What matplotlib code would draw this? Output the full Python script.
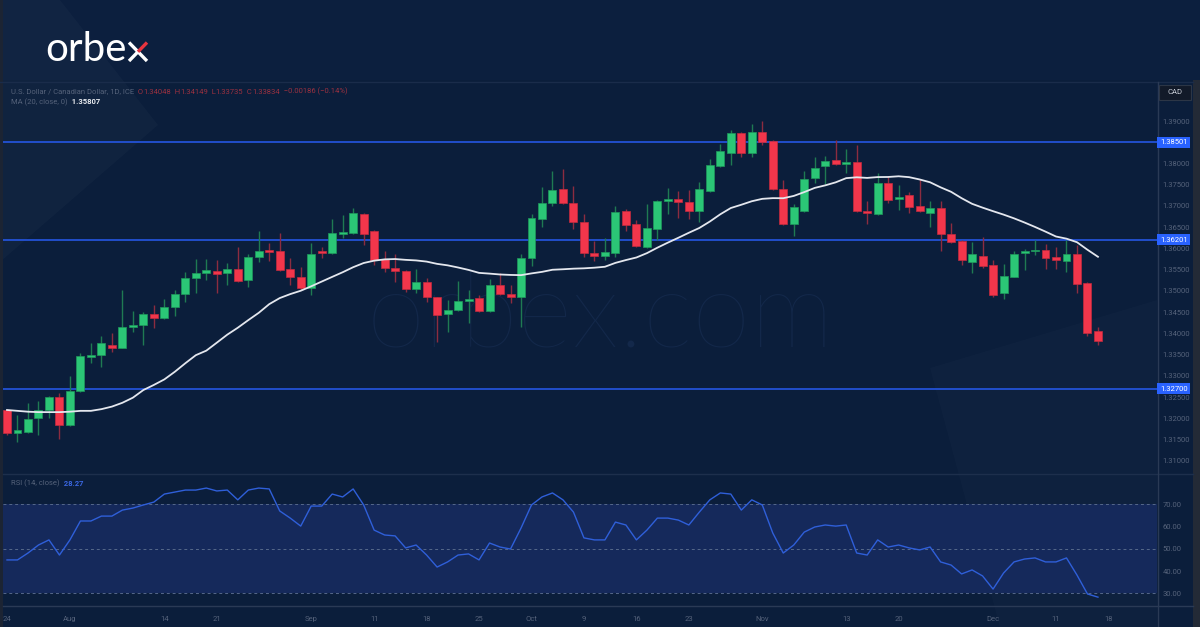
import matplotlib
matplotlib.use("Agg")
import matplotlib.pyplot as plt
from matplotlib.patches import Rectangle, Polygon
import numpy as np

# ---------------- data ----------------
opens = [1.3220, 1.3165, 1.3169, 1.3202, 1.3220, 1.3250, 1.3184, 1.3265, 1.3345, 1.3349,
         1.3373, 1.3367, 1.3415, 1.3420, 1.3446, 1.3437, 1.3462, 1.3492, 1.3530, 1.3542,
         1.3547, 1.3542, 1.3551, 1.3526, 1.3579, 1.3597, 1.3595, 1.3551, 1.3534, 1.3506,
         1.3595, 1.3589, 1.3635, 1.3636, 1.3681, 1.3641, 1.3575, 1.3554, 1.3547, 1.3505,
         1.3522, 1.3485, 1.3446, 1.3455, 1.3477, 1.3483, 1.3453, 1.3515, 1.3493, 1.3487,
         1.3577, 1.3669, 1.3708, 1.3740, 1.3706, 1.3662, 1.3589, 1.3583, 1.3590, 1.3689,
         1.3658, 1.3604, 1.3646, 1.3712, 1.3716, 1.3709, 1.3688, 1.3735, 1.3795, 1.3825,
         1.3871, 1.3825, 1.3873, 1.3853, 1.3739, 1.3658, 1.3688, 1.3765, 1.3793, 1.3808,
         1.3800, 1.3804, 1.3689, 1.3681, 1.3755, 1.3716, 1.3726, 1.3699, 1.3683, 1.3695,
         1.3634, 1.3618, 1.3569, 1.3583, 1.3561, 1.3495, 1.3534, 1.3589, 1.3593, 1.3596,
         1.3580, 1.3571, 1.3586, 1.3518, 1.34048]
highs = [1.3222, 1.3208, 1.3237, 1.3242, 1.3254, 1.3259, 1.3300, 1.3353, 1.3378, 1.3394,
         1.3400, 1.3502, 1.3454, 1.3451, 1.3467, 1.3480, 1.3502, 1.3545, 1.3575, 1.3575,
         1.3573, 1.3565, 1.3604, 1.3587, 1.3641, 1.3612, 1.3637, 1.3577, 1.3557, 1.3614,
         1.3604, 1.3669, 1.3678, 1.3695, 1.3683, 1.3643, 1.3594, 1.3586, 1.3549, 1.3551,
         1.3530, 1.3487, 1.3479, 1.3524, 1.3502, 1.3491, 1.3528, 1.3542, 1.3514, 1.3586,
         1.3681, 1.3745, 1.3782, 1.3786, 1.3747, 1.3680, 1.3618, 1.3624, 1.3700, 1.3692,
         1.3667, 1.3705, 1.3714, 1.3742, 1.3735, 1.3738, 1.3757, 1.3810, 1.3846, 1.3879,
         1.3875, 1.3893, 1.3901, 1.3855, 1.3761, 1.3704, 1.3783, 1.3816, 1.3818, 1.3855,
         1.3833, 1.3844, 1.3712, 1.3777, 1.3771, 1.3749, 1.3732, 1.3763, 1.3712, 1.3712,
         1.3661, 1.3620, 1.3615, 1.3626, 1.3573, 1.3563, 1.3595, 1.3598, 1.3620, 1.3611,
         1.3604, 1.3620, 1.3608, 1.3520, 1.34149]
lows = [1.3160, 1.3145, 1.3165, 1.3160, 1.3202, 1.3151, 1.3182, 1.3263, 1.3330, 1.3320,
        1.3357, 1.3365, 1.3404, 1.3373, 1.3412, 1.3435, 1.3440, 1.3475, 1.3496, 1.3526,
        1.3496, 1.3514, 1.3520, 1.3510, 1.3569, 1.3571, 1.3547, 1.3514, 1.3502, 1.3491,
        1.3577, 1.3587, 1.3624, 1.3634, 1.3608, 1.3561, 1.3545, 1.3522, 1.3498, 1.3495,
        1.3475, 1.3380, 1.3404, 1.3453, 1.3424, 1.3451, 1.3451, 1.3491, 1.3471, 1.3416,
        1.3559, 1.3651, 1.3700, 1.3704, 1.3645, 1.3581, 1.3571, 1.3573, 1.3581, 1.3640,
        1.3604, 1.3602, 1.3620, 1.3680, 1.3671, 1.3669, 1.3663, 1.3733, 1.3791, 1.3796,
        1.3816, 1.3816, 1.3844, 1.3737, 1.3656, 1.3630, 1.3686, 1.3755, 1.3752, 1.3796,
        1.3778, 1.3686, 1.3657, 1.3679, 1.3708, 1.3691, 1.3683, 1.3686, 1.3651, 1.3594,
        1.3613, 1.3561, 1.3542, 1.3553, 1.3487, 1.3481, 1.3532, 1.3549, 1.3585, 1.3551,
        1.3551, 1.3545, 1.3495, 1.3394, 1.33735]
closes = [1.3165, 1.3173, 1.3199, 1.3221, 1.3250, 1.3184, 1.3264, 1.3347, 1.3350, 1.3377,
          1.3367, 1.3415, 1.3420, 1.3446, 1.3437, 1.3462, 1.3493, 1.3531, 1.3543, 1.3549,
          1.3540, 1.3551, 1.3524, 1.3579, 1.3595, 1.3592, 1.3549, 1.3534, 1.3508, 1.3587,
          1.3589, 1.3636, 1.3638, 1.3683, 1.3634, 1.3573, 1.3553, 1.3547, 1.3505, 1.3522,
          1.3485, 1.3444, 1.3455, 1.3477, 1.3481, 1.3453, 1.3514, 1.3493, 1.3487, 1.3577,
          1.3671, 1.3708, 1.3738, 1.3706, 1.3662, 1.3589, 1.3583, 1.3591, 1.3687, 1.3655,
          1.3606, 1.3648, 1.3712, 1.3716, 1.3709, 1.3689, 1.3739, 1.3796, 1.3829, 1.3871,
          1.3825, 1.3873, 1.3851, 1.3739, 1.3658, 1.3697, 1.3763, 1.3789, 1.3806, 1.3798,
          1.3803, 1.3688, 1.3683, 1.3755, 1.3714, 1.3722, 1.3697, 1.3688, 1.3696, 1.3633,
          1.3615, 1.3573, 1.3586, 1.3559, 1.3491, 1.3536, 1.3587, 1.3593, 1.3597, 1.3578,
          1.3573, 1.3587, 1.3516, 1.3400, 1.33834]
# MA(20) values of the first 19 sessions (history before the visible window)
ma_head = [1.3220, 1.3218, 1.3216, 1.3215, 1.3215, 1.3215, 1.3216, 1.3218, 1.3218, 1.3222,
           1.3228, 1.3237, 1.3249, 1.3267, 1.3279, 1.3292, 1.3310, 1.3330, 1.3349]
rsi = [45.0, 45.0, 48.1, 51.7, 54.0, 47.2, 54.0, 62.5, 62.5, 64.7,
       64.7, 67.4, 68.3, 69.7, 71.0, 74.6, 75.5, 76.4, 76.4, 77.3,
       76.0, 76.4, 72.0, 76.4, 77.3, 76.9, 67.0, 63.8, 60.2, 69.2,
       69.2, 74.6, 73.3, 76.9, 69.7, 58.4, 56.2, 55.8, 50.4, 51.7,
       47.2, 41.8, 44.1, 47.2, 47.7, 45.0, 52.6, 50.8, 49.9, 59.3,
       69.7, 73.3, 75.1, 72.0, 66.5, 54.9, 54.0, 54.0, 62.0, 60.7,
       54.0, 58.4, 63.8, 63.8, 62.9, 60.7, 66.5, 72.0, 75.1, 74.6,
       67.4, 72.0, 69.7, 57.1, 48.1, 51.7, 57.5, 59.8, 60.7, 60.2,
       60.7, 48.1, 47.2, 54.0, 50.8, 51.7, 50.4, 49.5, 50.8, 44.1,
       42.7, 38.7, 40.5, 37.8, 31.9, 39.1, 44.1, 45.4, 45.9, 44.1,
       44.1, 45.9, 38.2, 29.7, 28.27]
levels = [1.38501, 1.36201, 1.32700]
price_ticks = [1.310, 1.315, 1.320, 1.325, 1.330, 1.335, 1.340, 1.345, 1.350,
               1.355, 1.360, 1.365, 1.370, 1.375, 1.380, 1.385, 1.390]
rsi_ticks = [30, 40, 50, 60, 70]
date_labels = ["24", "Aug", "14", "21", "Sep", "11", "18", "25", "Oct", "9",
               "16", "23", "Nov", "13", "20", "Dec", "11", "18"]
date_pos = [0, 6, 15, 20, 29, 35, 40, 45, 50, 55, 60, 65, 72, 80, 85, 94, 100, 105]

# ---------------- style ----------------
BG = "#0b1e3b"
TXT = "#55627a"
GREEN, GREEN_E, GREEN_W = "#2bc676", "#1f9a5c", "#1f7a52"
RED, RED_E, RED_W = "#f2364b", "#c32a3e", "#8c2c40"
LVL = "#2352d6"
LBOX = "#2962ff"

W, H = 1200, 627
fig = plt.figure(figsize=(W / 100, H / 100), dpi=100)
fig.patch.set_facecolor(BG)


def px_axes(x0, y0, x1, y1, **kw):
    return fig.add_axes([x0 / W, 1 - y1 / H, (x1 - x0) / W, (y1 - y0) / H], **kw)


# background decoration layer
axb = px_axes(0, 0, W, H)
axb.set_xlim(0, W)
axb.set_ylim(H, 0)
axb.axis("off")
axb.set_zorder(0)
axb.add_patch(Rectangle((0, 0), W, 80, color="#0c1f3e", lw=0))
axb.add_patch(Polygon([(0, 0), (60, 0), (158, 125), (0, 262)], closed=True,
                      color="#ffffff", alpha=0.022, lw=0))
axb.add_patch(Polygon([(930, 368), (1157, 300), (1157, 627), (1000, 627)], closed=True,
                      color="#ffffff", alpha=0.016, lw=0))
axb.add_patch(Rectangle((0, 0), 3, H, color="#1c2433", lw=0))
axb.add_patch(Rectangle((1193, 80), 7, H - 80, color="#232a36", lw=0))
axb.plot([0, 1193], [81.5, 81.5], color="#1a2c4a", lw=1)
axb.plot([3, 1193], [473.5, 473.5], color="#1d2f4c", lw=1)
axb.plot([3, 1193], [605.5, 605.5], color="#2a3a55", lw=1)
axb.plot([1157.5, 1157.5], [82, 627], color="#2a3a55", lw=1)
axb.text(600, 318, "orbex.com", fontsize=76, color="#13284a", ha="center", va="center",
         family="Lato", fontweight="light", zorder=1)

# logo: "orbe" as text, the "x" drawn with two strokes (upper-right arm red)
axb.text(45, 61, "orbe", fontsize=29, color="white", family="Lato",
         ha="left", va="baseline", zorder=5)
axb.plot([129, 147], [42.5, 61], color="white", lw=2.4, solid_capstyle="butt", zorder=5)
axb.plot([129, 138], [61, 51.75], color="white", lw=2.4, solid_capstyle="butt", zorder=5)
axb.plot([138, 147], [51.75, 42.5], color="#e8343f", lw=2.4, solid_capstyle="butt", zorder=6)

# ---------------- price pane ----------------
step = 10.49
def xi(px):
    return (px - 7) / step

def py(y):
    return 1.39 + (121 - y) / 4250.0

axp = px_axes(3, 82, 1157, 473)
axp.set_zorder(2)
axp.patch.set_alpha(0)
axp.set_xlim(xi(3), xi(1157))
axp.set_ylim(py(473), py(82))
for s in axp.spines.values():
    s.set_visible(False)
axp.set_xticks([])
axp.yaxis.tick_right()
axp.set_yticks(price_ticks, [f"{v:.5f}" for v in price_ticks])
axp.tick_params(axis="y", length=0, pad=4, labelsize=5.5, labelcolor=TXT)
for lab in axp.get_yticklabels():
    lab.set_family("Roboto")

n = len(closes)
x = np.arange(n)
for i in range(n):
    o, h, l, c = opens[i], highs[i], lows[i], closes[i]
    up = c >= o
    axp.vlines(i, l, h, color=GREEN_W if up else RED_W, lw=1.0, zorder=3)
    bot_ = min(o, c)
    hgt = max(abs(c - o), 0.00028)
    axp.bar(i, hgt, bottom=bot_, width=0.76, color=GREEN if up else RED,
            edgecolor=GREEN_E if up else RED_E, linewidth=0.5, zorder=4)

closes_arr = np.array(closes)
ma = list(ma_head) + [closes_arr[k - 19:k + 1].mean() for k in range(19, n)]
axp.plot(x, ma, color="#e4e7ee", lw=1.3, zorder=5)

ytr = axp.get_yaxis_transform()
bw = 11 / 4250.0
for lv in levels:
    axp.axhline(lv, color=LVL, lw=1.3, zorder=2)
    axp.add_patch(Rectangle((1.0, lv - bw / 2), (1190 - 1157) / 1154, bw, transform=ytr,
                            color=LBOX, clip_on=False, zorder=6, lw=0))
    axp.text((1174 - 3) / 1154, lv, f"{lv:.5f}", transform=ytr, color="white",
             fontsize=5.5, ha="center", va="center", family="Roboto", zorder=7, clip_on=False)

# CAD box
axb.add_patch(Rectangle((1159, 85), 32, 15, facecolor="#121a29", edgecolor="#2c3646",
                        lw=0.8, zorder=5))
axb.text(1167, 92.5, "CAD", color="#c9ced8", fontsize=5.5, va="center", ha="left",
         family="Roboto", zorder=6)

# header texts
renderer = fig.canvas.get_renderer()
def seq_text(x0, y0, parts, size=5.5):
    cur = x0
    for s, col, wgt in parts:
        tt = fig.text(cur / W, 1 - y0 / H, s, color=col, fontsize=size, fontweight=wgt,
                      family="Roboto", va="center", ha="left")
        cur += tt.get_window_extent(renderer).width
    return cur

HR = "#9a3140"
seq_text(11, 91.5, [("U.S. Dollar / Canadian Dollar, 1D, ICE", TXT, "normal"),
                    ("  O", HR, "normal"), ("1.34048", HR, "normal"),
                    ("  H", HR, "normal"), ("1.34149", HR, "normal"),
                    ("  L", HR, "normal"), ("1.33735", HR, "normal"),
                    ("  C", HR, "normal"), ("1.33834", HR, "normal"),
                    ("  \u22120.00186 (\u22120.14%)", HR, "normal")])
seq_text(11, 102, [("MA (20, close, 0)", TXT, "normal"), ("  1.35807", "#e8ebf0", "bold")])
seq_text(11, 483.5, [("RSI (14, close)", TXT, "normal"), ("  28.27", "#3a66e0", "bold")])

# ---------------- RSI pane ----------------
def ry(y):
    return 70 - (y - 504.3) / 2.225

axr = px_axes(3, 473, 1157, 605)
axr.set_zorder(2)
axr.patch.set_alpha(0)
axr.set_xlim(xi(3), xi(1157))
axr.set_ylim(ry(605), ry(473))
for s in axr.spines.values():
    s.set_visible(False)
axr.axhspan(30, 70, color="#15295b", lw=0, zorder=1)
for lv in (30, 50, 70):
    axr.axhline(lv, color="#56688a", lw=0.7, ls=(0, (3, 3)), zorder=2)
axr.plot(x, rsi, color="#2f5fd9", lw=1.0, zorder=3)
axr.yaxis.tick_right()
axr.set_yticks(rsi_ticks, [f"{v:.2f}" for v in rsi_ticks])
axr.tick_params(axis="y", length=0, pad=4, labelsize=5.5, labelcolor=TXT)
axr.set_xticks(date_pos, date_labels)
axr.tick_params(axis="x", length=0, pad=8, labelsize=5.5, labelcolor=TXT)
for lab in axr.get_yticklabels() + axr.get_xticklabels():
    lab.set_family("Roboto")

fig.savefig("out.png", dpi=100, facecolor=BG)
